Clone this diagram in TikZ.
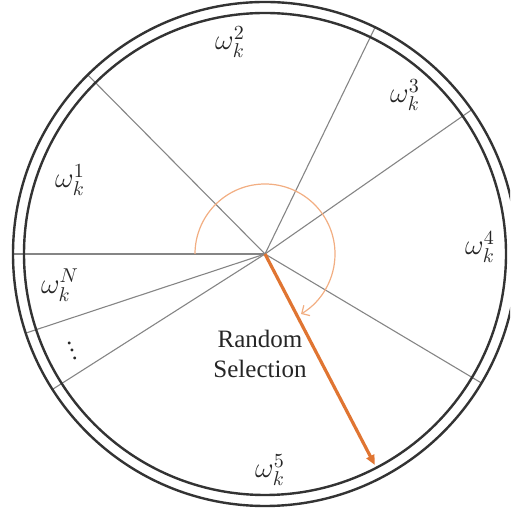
\documentclass[tikz,border=0pt]{standalone}
\usepackage{fontspec}
\setmainfont{Liberation Serif}
\usepackage{amsmath}
\usetikzlibrary{arrows.meta,calc}
\definecolor{ringc}{HTML}{333333}
\definecolor{spokec}{HTML}{858585}
\definecolor{arrowc}{HTML}{E07532}
\definecolor{arcc}{HTML}{F2AE82}
\tikzset{
  ring/.style={draw=ringc, line width=1.2pt},
  spoke/.style={draw=spokec, line width=0.55pt},
  selarrow/.style={draw=arrowc, line width=1.6pt, -{Triangle[length=5pt,width=4.2pt]}},
  turnarc/.style={draw=arcc, line width=0.6pt, -{Straight Barb[length=3pt,width=6pt]}},
  wlabel/.style={font=\fontsize{14.5}{16}\selectfont, text=black!85, inner sep=0pt},
  txt/.style={font=\fontsize{12.5}{15}\selectfont, align=center, inner sep=0pt, text=black!85}
}
\begin{document}
\begin{tikzpicture}[x=0.5pt,y=0.5pt]
\useasboundingbox (0,0) rectangle (510,512);
\clip (0,0) rectangle (510,512);
\coordinate (c) at (265,258);
% spoke ends on the outer ring
\foreach \a/\n in {180/s1,134.7/s2,64.1/s3,34.9/s4,-30.8/s5,-147.5/s6,-161.7/s7}{
  \coordinate (\n) at ($(c)+(\a:252)$);
}
\foreach \n in {s1,s2,s3,s4,s5,s6,s7}{
  \draw[spoke] (c) -- (\n);
}
% rings
\draw[ring] (c) circle[radius=252];
\draw[ring] (c) circle[radius=241];
% rotation arc
\coordinate (arcstart) at ($(c)+(180:70)$);
\draw[turnarc] (arcstart) arc[start angle=180, end angle=-59, radius=70];
% selection arrow
\coordinate (sel) at ($(c)+(-62.5:238)$);
\draw[selarrow] (c) -- (sel);
% labels
\node[wlabel] (w2) at (230,470) {$\omega_k^2$};
\node[wlabel] (w3) at (405,417) {$\omega_k^3$};
\node[wlabel] (w1) at (70,332) {$\omega_k^1$};
\node[wlabel] (w4) at (480,265) {$\omega_k^4$};
\node[wlabel] (wN) at (60,227) {$\omega_k^N$};
\node[wlabel, rotate=20, font=\fontsize{12}{13}\selectfont\boldmath] (dots) at (70,167) {$\vdots$};
\node[wlabel] (w5) at (270,42) {$\omega_k^5$};
\node[txt] (rs) at (260,158) {Random\\Selection};
\end{tikzpicture}
\end{document}
